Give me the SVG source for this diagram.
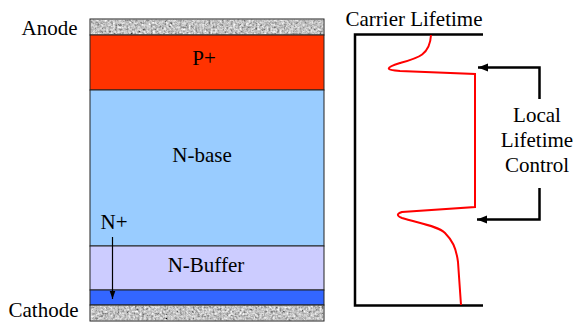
<svg xmlns="http://www.w3.org/2000/svg" width="575" height="322" viewBox="0 0 575 322">
<style>
.t{font-family:"Liberation Serif","Tinos","Times New Roman","Nimbus Roman","DejaVu Serif",serif;font-size:21px;fill:#000}
.m{text-anchor:middle}
.e{text-anchor:end}
.layer{stroke:#222;stroke-width:1}
.ax{stroke:#000;stroke-width:2.5;fill:none}
.ar{stroke:#000;stroke-width:2.5;fill:none}
</style>
<defs>
<filter id="granite" x="0" y="0" width="1" height="1">
<feTurbulence type="fractalNoise" baseFrequency="0.45" numOctaves="3" seed="3" result="n"/>
<feColorMatrix in="n" type="matrix" values="0.33 0.33 0.33 0 0  0.33 0.33 0.33 0 0  0.33 0.33 0.33 0 0  0 0 0 0 1" result="g"/>
<feComponentTransfer in="g" result="g2">
<feFuncR type="linear" slope="2" intercept="-0.45"/>
<feFuncG type="linear" slope="2" intercept="-0.45"/>
<feFuncB type="linear" slope="2" intercept="-0.45"/>
</feComponentTransfer>
<feComposite in="g2" in2="SourceGraphic" operator="in"/>
</filter>
<marker id="ah" viewBox="0 0 10 10" refX="10" refY="5" markerWidth="4" markerHeight="4" orient="auto" markerUnits="strokeWidth">
<path d="M0,1 L10,5 L0,9 z" fill="#000"/>
</marker>
<marker id="ah2" viewBox="0 0 10 10" refX="10" refY="5" markerWidth="7" markerHeight="7" orient="auto" markerUnits="strokeWidth">
<path d="M0,1.5 L10,5 L0,8.5 z" fill="#000"/>
</marker>
</defs>

<g id="anode-metal">
<rect x="90.5" y="19.5" width="233" height="15" fill="#fff" filter="url(#granite)"/>
<rect x="90" y="19" width="234" height="16" fill="none" class="layer"/>
</g>
<g id="p-plus">
<rect x="90" y="35" width="234" height="55" fill="#ff3300" class="layer"/>
<text class="t m" x="204" y="65">P+</text>
</g>
<g id="n-base">
<rect x="90" y="90" width="234" height="156" fill="#99ccff" class="layer"/>
<text class="t m" x="202" y="161.5">N-base</text>
</g>
<g id="n-buffer">
<rect x="90" y="246" width="234" height="44" fill="#ccccff" class="layer"/>
<text class="t m" x="206" y="271.5">N-Buffer</text>
</g>
<g id="n-plus">
<rect x="90" y="290" width="234" height="15" fill="#3366ff" class="layer"/>
<text class="t m" x="114" y="228.5">N+</text>
</g>
<g id="cathode-metal">
<rect x="90.5" y="305.5" width="233" height="15" fill="#fff" filter="url(#granite)"/>
<rect x="90" y="305" width="234" height="16" fill="none" class="layer"/>
</g>
<g id="labels">
<text class="t e" x="77.5" y="34.5">Anode</text>
<text class="t e" x="78.5" y="317">Cathode</text>
<text class="t m" x="414" y="26">Carrier Lifetime</text>
<text class="t m" x="537" y="122">Local</text>
<text class="t m" x="537" y="147">Lifetime</text>
<text class="t m" x="537" y="172">Control</text>
</g>
<g id="lifetime-plot">
<path class="ax" d="M483,34.5 H355 V305.5 H483"/>
<path d="M431,35 C430,55 418,58 400,63 C384,68 386,70 400,71 L475,74 V207 L402,212 C396,214 397,216 402,218 C418,223 438,226 445,233 C452,240 456,247 458,262 L461,305" fill="none" stroke="#ff0000" stroke-width="2"/>
</g>
<g id="connectors">
<path d="M112.5,237 V299" stroke="#000" stroke-width="1.2" fill="none" marker-end="url(#ah2)"/>
<path class="ar" d="M539.5,99 V67.5 H478" marker-end="url(#ah)"/>
<path class="ar" d="M539.5,188 V219.5 H477" marker-end="url(#ah)"/>
</g>
</svg>
